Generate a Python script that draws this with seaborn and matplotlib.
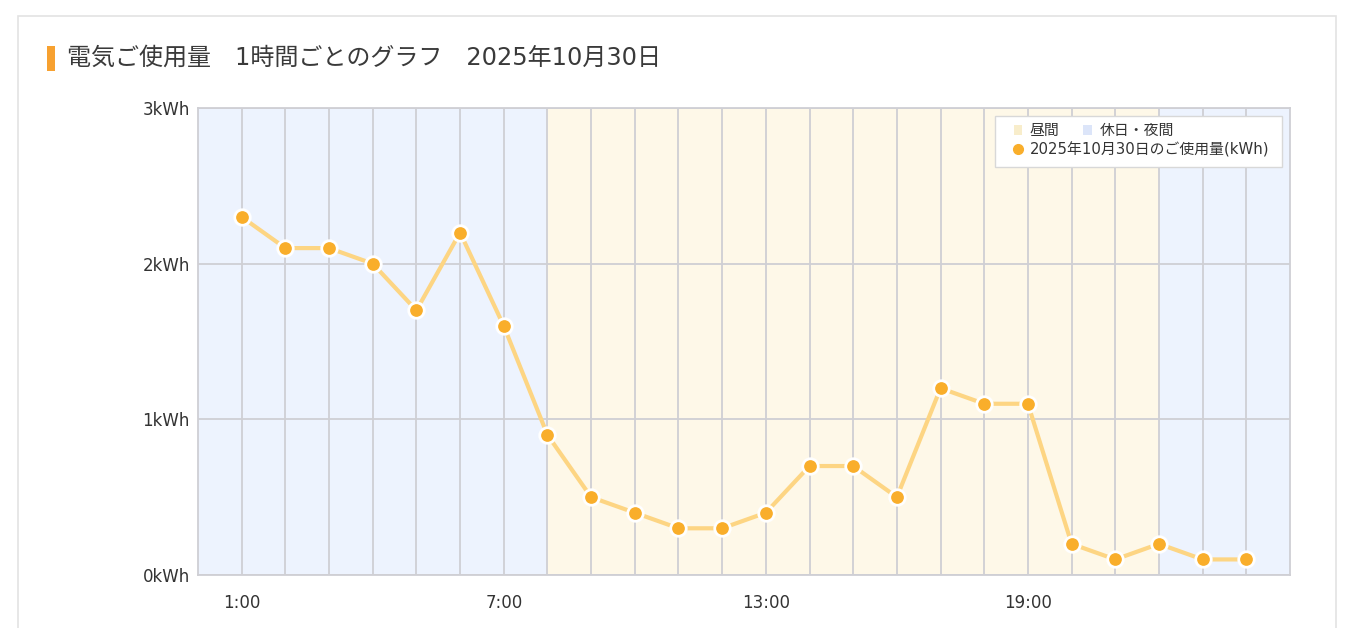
import numpy as np
import pandas as pd
import seaborn as sns
import matplotlib.pyplot as plt
from matplotlib.lines import Line2D
from matplotlib.patches import Patch, Rectangle

sns.set_style("white")
plt.rcParams['font.family'] = ['DejaVu Sans', 'Noto Sans CJK JP']

# data
hours = list(range(1, 25))
usage = [2.3, 2.1, 2.1, 2.0, 1.7, 2.2, 1.6, 0.9, 0.5, 0.4, 0.3, 0.3,
         0.4, 0.7, 0.7, 0.5, 1.2, 1.1, 1.1, 0.2, 0.1, 0.2, 0.1, 0.1]
day_start, day_end = 8, 22
x_ticks = [1, 7, 13, 19]
x_labels = ["1:00", "7:00", "13:00", "19:00"]
y_ticks = [0, 1, 2, 3]
y_labels = ["0kWh", "1kWh", "2kWh", "3kWh"]
title = "電気ご使用量　1時間ごとのグラフ　2025年10月30日"
series_label = "2025年10月30日のご使用量(kWh)"

df = pd.DataFrame({"hour": hours, "kwh": usage})

W, H = 1354, 628
fig = plt.figure(figsize=(W / 100, H / 100), dpi=100)

# card border
fig.patches.append(Rectangle((18 / W, -0.05), (1336 - 18) / W, 1.05 - 16 / H,
                             transform=fig.transFigure, fill=False,
                             edgecolor="#e3e3e3", linewidth=1.2))
# orange title marker
fig.patches.append(Rectangle((47 / W, 1 - 71 / H), 8 / W, 25 / H,
                             transform=fig.transFigure, facecolor="#f7a130",
                             edgecolor="none"))
fig.text(67 / W, 1 - 58 / H, title, fontsize=17.3, color="#3a3a3a", va="center")

ax = fig.add_axes([198 / W, (H - 575) / H, (1290 - 198) / W, (575 - 108) / H])

# background bands
ax.axvspan(0, day_start, color="#edf3fe", zorder=0)
ax.axvspan(day_start, day_end, color="#fef8e8", zorder=0)
ax.axvspan(day_end, 25, color="#edf3fe", zorder=0)

for h in hours:
    ax.axvline(h, color="#cfcfd4", linewidth=1.3, zorder=1)
for y in y_ticks:
    ax.axhline(y, color="#cfcfd4", linewidth=1.3, zorder=1)

sns.lineplot(data=df, x="hour", y="kwh", ax=ax, color="#fdd583", linewidth=3,
             zorder=3)
sns.scatterplot(data=df, x="hour", y="kwh", ax=ax, color="#f9ae2b", s=125,
                edgecolor="white", linewidth=2, zorder=4)

ax.set_xlim(0, 25)
ax.set_ylim(0, 3)
ax.set_xticks(x_ticks)
ax.set_xticklabels(x_labels)
ax.set_yticks(y_ticks)
ax.set_yticklabels(y_labels)
ax.tick_params(axis="both", length=0, labelsize=12, labelcolor="#333333")
ax.tick_params(axis="x", pad=14)
ax.tick_params(axis="y", pad=6)
ax.set_xlabel("")
ax.set_ylabel("")
for s in ax.spines.values():
    s.set_color("#cfcfd4")
    s.set_linewidth(1.3)

# legend box (drawn by hand so the first row can hold two entries)
ax.add_patch(Rectangle((0.730, 0.874), 0.2627, 0.109, transform=ax.transAxes,
                       facecolor="white", edgecolor="#d8d8d8", linewidth=1,
                       zorder=5))
band_handles = [
    Patch(facecolor="#f8edcb", edgecolor="none", label="昼間"),
    Patch(facecolor="#dce5f9", edgecolor="none", label="休日・夜間"),
]
leg1 = ax.legend(handles=band_handles, loc="center left", ncol=2, frameon=False,
                 fontsize=10.7, handlelength=0.6, handleheight=0.6,
                 handletextpad=0.5, columnspacing=1.6, borderpad=0,
                 bbox_to_anchor=(0.740, 0.951))
leg1.set_zorder(6)
ax.add_artist(leg1)
leg2 = ax.legend(handles=[Line2D([], [], marker="o", linestyle="none",
                                 markersize=7, markerfacecolor="#f9ae2b",
                                 markeredgecolor="#f9ae2b", label=series_label)],
                 loc="center left", frameon=False, fontsize=10.7,
                 handlelength=0.6, handletextpad=0.5, borderpad=0,
                 bbox_to_anchor=(0.740, 0.911))
leg2.set_zorder(6)
for lg in (leg1, leg2):
    for t in lg.get_texts():
        t.set_color("#333333")

fig.savefig("out.png", dpi=100)
